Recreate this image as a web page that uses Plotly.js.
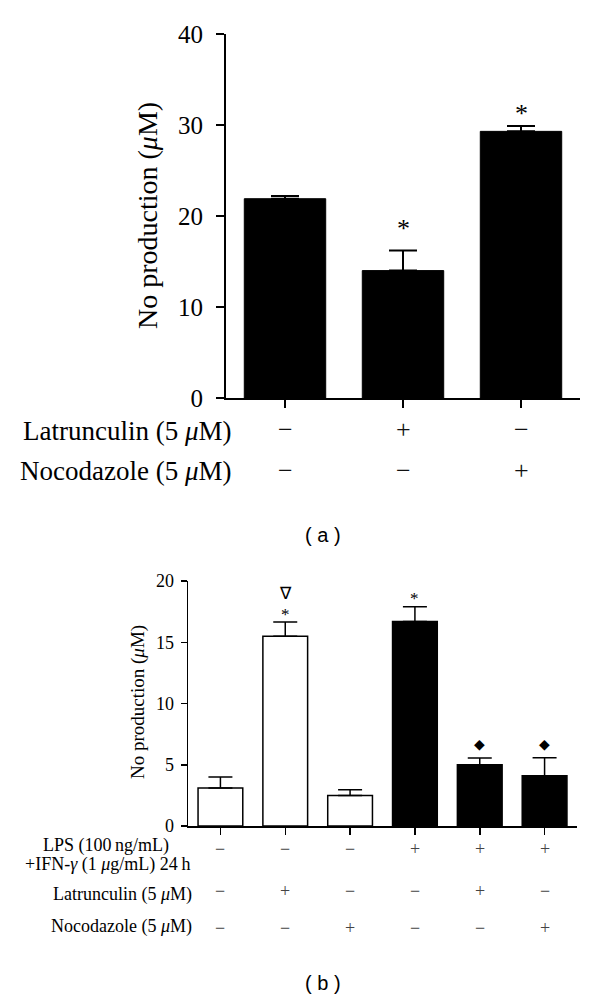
<!DOCTYPE html>
<html>
<head>
<meta charset="utf-8">
<script src="https://cdn.plot.ly/plotly-3.0.1.min.js"></script>
<style>html,body{margin:0;padding:0;background:#fff;}#chart{width:600px;height:1000px;}</style>
</head>
<body>
<div id="chart"></div>
<script>
// ---- Panel (a) data ----
const catsA = ['ctrl', 'lat', 'noc'];
const valuesA = [21.9, 14.0, 29.3];
const errorsA = [0.3, 2.2, 0.6];
const marksA = ['', '*', '*'];
const latA = ['\u2212', '+', '\u2212'];
const nocA = ['\u2212', '\u2212', '+'];
const yTicksA = [0, 10, 20, 30, 40];

// ---- Panel (b) data ----
const catsB = ['c1', 'c2', 'c3', 'c4', 'c5', 'c6'];
const valuesB = [3.1, 15.5, 2.5, 16.7, 5.0, 4.1];
const errorsB = [0.9, 1.15, 0.45, 1.2, 0.55, 1.48];
const lpsB = ['\u2212', '\u2212', '\u2212', '+', '+', '+'];
const latB = ['\u2212', '+', '\u2212', '\u2212', '+', '\u2212'];
const nocB = ['\u2212', '\u2212', '+', '\u2212', '\u2212', '+'];
const fillB = ['#ffffff', '#ffffff', '#ffffff', '#000000', '#000000', '#000000'];
const marksB = [[], ['*', '\u2207'], [], ['*'], ['\u25C6'], ['\u25C6']];
const yTicksB = [0, 5, 10, 15, 20];

const SERIF = 'Liberation Serif, Times New Roman, serif';
const py = p => 1 - p / 1000;   // pixel-y -> paper
const px = p => p / 600;        // pixel-x -> paper

const traces = [
  {
    type: 'bar', x: catsA, y: valuesA, xaxis: 'x', yaxis: 'y',
    marker: {color: '#000', line: {color: '#000', width: 1}},
    error_y: {type: 'data', symmetric: false, array: errorsA, arrayminus: errorsA.map(() => 0),
              color: '#000', thickness: 2, width: 14},
    hoverinfo: 'none', showlegend: false
  },
  {
    type: 'bar', x: catsB, y: valuesB, xaxis: 'x2', yaxis: 'y2',
    marker: {color: fillB, line: {color: '#000', width: 1.5}},
    error_y: {type: 'data', symmetric: false, array: errorsB, arrayminus: errorsB.map(() => 0),
              color: '#000', thickness: 1.5, width: 12},
    hoverinfo: 'none', showlegend: false
  }
];

const ann = [];
// Axis titles
ann.push({xref: 'paper', yref: 'paper', x: px(148), y: py(216), text: 'No production (<i>μ</i>M)',
  textangle: -90, showarrow: false, xanchor: 'center', yanchor: 'middle',
  font: {family: SERIF, size: 28, color: '#000'}});
ann.push({xref: 'paper', yref: 'paper', x: px(138), y: py(702), text: 'No production (<i>μ</i>M)',
  textangle: -90, showarrow: false, xanchor: 'center', yanchor: 'middle',
  font: {family: SERIF, size: 19, color: '#000'}});

// Panel (a) row labels and signs
ann.push({xref: 'paper', yref: 'paper', x: px(234), y: py(431), text: 'Latrunculin (5 <i>μ</i>M)',
  showarrow: false, xanchor: 'right', yanchor: 'middle', font: {family: SERIF, size: 27, color: '#000'}});
ann.push({xref: 'paper', yref: 'paper', x: px(234), y: py(471), text: 'Nocodazole (5 <i>μ</i>M)',
  showarrow: false, xanchor: 'right', yanchor: 'middle', font: {family: SERIF, size: 27, color: '#000'}});
catsA.forEach((c, i) => {
  ann.push({xref: 'x', yref: 'paper', x: c, y: py(430), text: latA[i], showarrow: false,
    xanchor: 'center', yanchor: 'middle', font: {family: SERIF, size: 26, color: '#111'}});
  ann.push({xref: 'x', yref: 'paper', x: c, y: py(470), text: nocA[i], showarrow: false,
    xanchor: 'center', yanchor: 'middle', font: {family: SERIF, size: 26, color: '#111'}});
  if (marksA[i]) {
    ann.push({xref: 'x', yref: 'y', x: c, y: valuesA[i] + errorsA[i], text: marksA[i], showarrow: false,
      xanchor: 'center', yanchor: 'middle', yshift: i === 1 ? 22 : 12,
      font: {family: SERIF, size: 26, color: '#000'}});
  }
});

// Panel (b) row labels and signs
ann.push({xref: 'paper', yref: 'paper', x: px(106), y: py(845), text: 'LPS (100\u2009ng/mL)',
  showarrow: false, xanchor: 'center', yanchor: 'middle', font: {family: SERIF, size: 18, color: '#000'}});
ann.push({xref: 'paper', yref: 'paper', x: px(107), y: py(864), text: '+IFN-<i>γ</i> (1 <i>μ</i>g/mL) 24\u2009h',
  showarrow: false, xanchor: 'center', yanchor: 'middle', font: {family: SERIF, size: 18, color: '#000'}});
ann.push({xref: 'paper', yref: 'paper', x: px(194), y: py(894), text: 'Latrunculin (5 <i>μ</i>M)',
  showarrow: false, xanchor: 'right', yanchor: 'middle', font: {family: SERIF, size: 18, color: '#000'}});
ann.push({xref: 'paper', yref: 'paper', x: px(194), y: py(926), text: 'Nocodazole (5 <i>μ</i>M)',
  showarrow: false, xanchor: 'right', yanchor: 'middle', font: {family: SERIF, size: 18, color: '#000'}});
catsB.forEach((c, i) => {
  [[lpsB, 849], [latB, 891], [nocB, 928]].forEach(([arr, yy]) => {
    ann.push({xref: 'x2', yref: 'paper', x: c, y: py(yy), text: arr[i], showarrow: false,
      xanchor: 'center', yanchor: 'middle', font: {family: SERIF, size: 18, color: '#444'}});
  });
  const top = valuesB[i] + errorsB[i];
  marksB[i].forEach((m, k) => {
    let shift, size;
    if (m === '*') { shift = 8; size = 17; }
    else if (m === '\u2207') { shift = 29; size = 17; }
    else { shift = 14; size = 14; }
    ann.push({xref: 'x2', yref: 'y2', x: c, y: top, text: m, showarrow: false,
      xanchor: 'center', yanchor: 'middle', yshift: shift,
      font: {family: m === '\u25C6' ? 'DejaVu Sans' : SERIF, size: size, color: '#000'}});
  });
});

// Panel captions
ann.push({xref: 'paper', yref: 'paper', x: px(323), y: py(535), text: '( a )', showarrow: false,
  xanchor: 'center', yanchor: 'middle', font: {family: 'Liberation Sans, Arial, sans-serif', size: 20, color: '#000'}});
ann.push({xref: 'paper', yref: 'paper', x: px(323), y: py(983), text: '( b )', showarrow: false,
  xanchor: 'center', yanchor: 'middle', font: {family: 'Liberation Sans, Arial, sans-serif', size: 20, color: '#000'}});

const layout = {
  width: 600, height: 1000,
  margin: {l: 0, r: 0, t: 0, b: 0},
  paper_bgcolor: '#fff', plot_bgcolor: '#fff',
  bargap: 0.31,
  xaxis: {domain: [px(226), px(580)], anchor: 'y', type: 'category', range: [-0.5, 2.5],
    showline: true, linecolor: '#000', linewidth: 2, ticks: 'outside', ticklen: 8, tickwidth: 2,
    tickcolor: '#000', showticklabels: false, showgrid: false, zeroline: false, fixedrange: true},
  yaxis: {domain: [py(398), py(34)], anchor: 'x', range: [0, 40], tickvals: yTicksA,
    showline: true, linecolor: '#000', linewidth: 2, ticks: 'outside', ticklen: 8, tickwidth: 2,
    tickcolor: '#000', showgrid: false, zeroline: false, fixedrange: true, ticklabelstandoff: 8,
    tickfont: {family: SERIF, size: 25, color: '#000'}},
  xaxis2: {domain: [px(188), px(577)], anchor: 'y2', type: 'category', range: [-0.5, 5.5],
    showline: true, linecolor: '#000', linewidth: 1.5, ticks: 'outside', ticklen: 7, tickwidth: 1.5,
    tickcolor: '#000', showticklabels: false, showgrid: false, zeroline: false, fixedrange: true},
  yaxis2: {domain: [py(826), py(581)], anchor: 'x2', range: [0, 20], tickvals: yTicksB,
    showline: true, linecolor: '#000', linewidth: 1.5, ticks: 'outside', ticklen: 6, tickwidth: 1.5,
    tickcolor: '#000', showgrid: false, zeroline: false, fixedrange: true, ticklabelstandoff: 3,
    tickfont: {family: SERIF, size: 18, color: '#000'}},
  annotations: ann
};

Plotly.newPlot('chart', traces, layout, {staticPlot: true, displayModeBar: false});
</script>
</body>
</html>
